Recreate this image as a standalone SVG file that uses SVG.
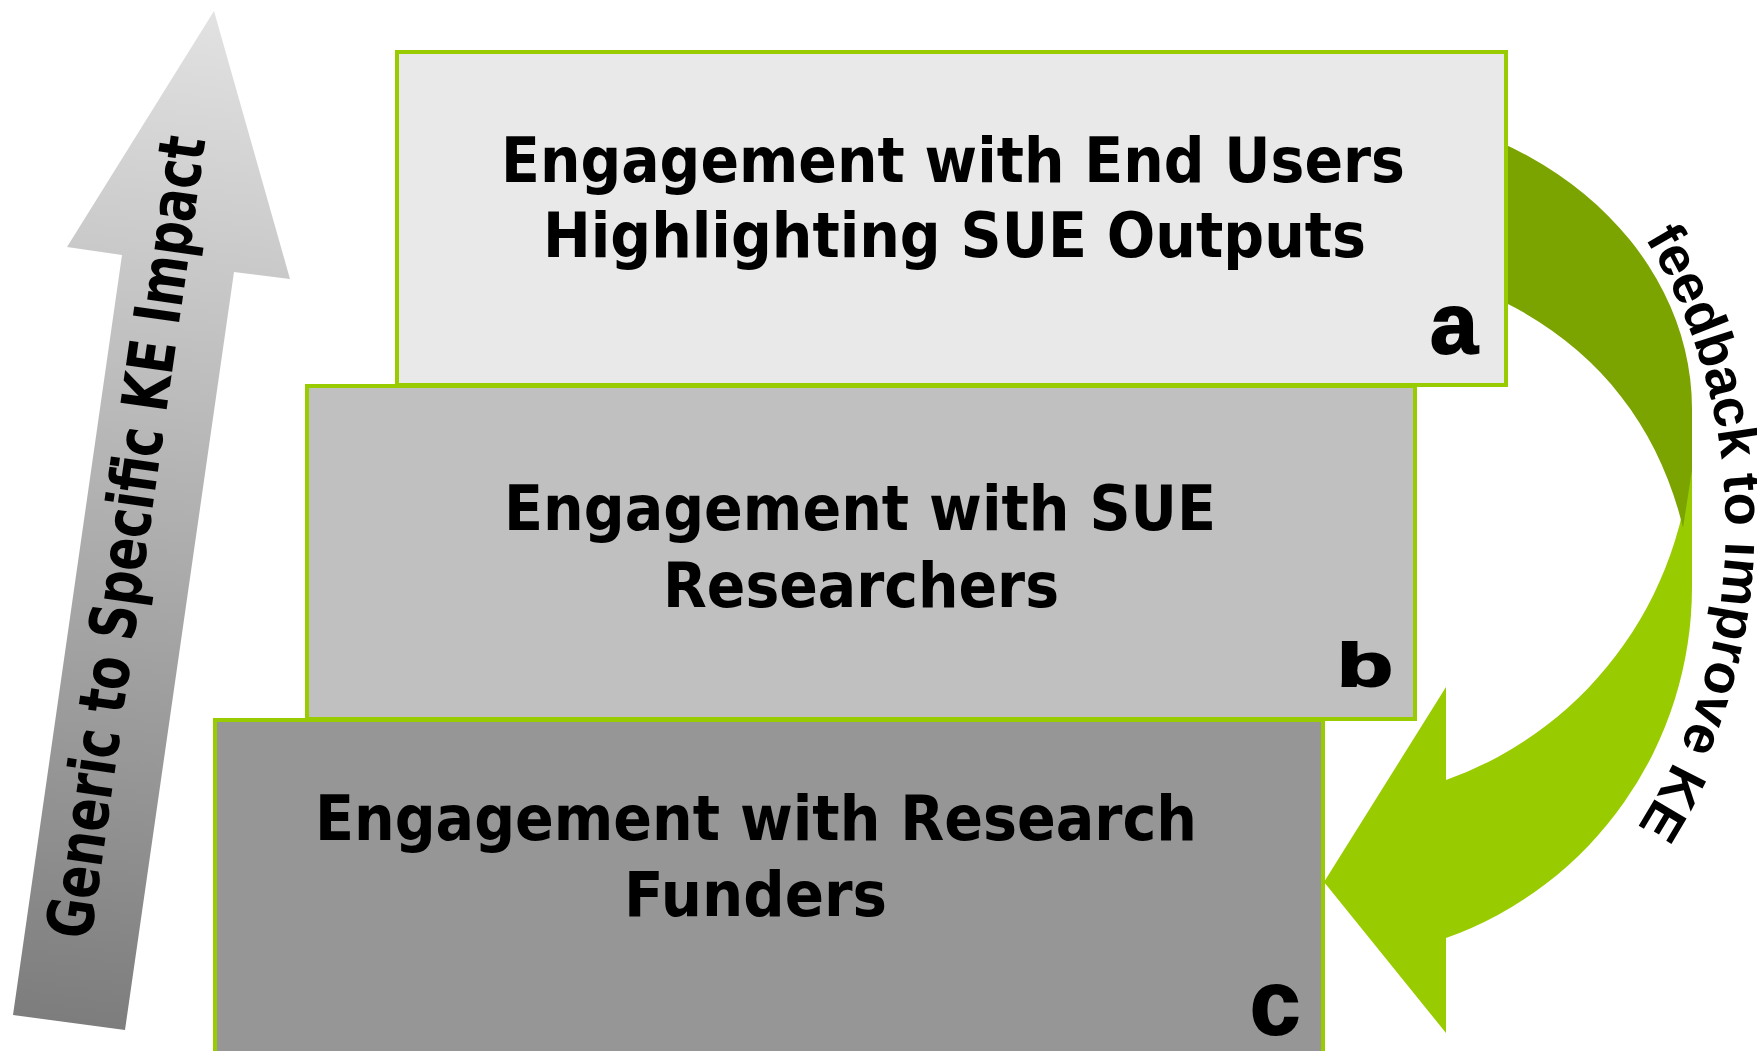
<svg xmlns="http://www.w3.org/2000/svg" width="1757" height="1051" viewBox="0 0 1757 1051">
<defs>
<linearGradient id="gArrow" gradientUnits="userSpaceOnUse" x1="214" y1="11" x2="69" y2="1022">
<stop offset="0" stop-color="#e2e2e2"/>
<stop offset="1" stop-color="#7d7d7d"/>
</linearGradient>
<path id="fbPath" d="M 1645 238 A 557 557 0 0 1 1563 920"/>
</defs>
<style>
.box { stroke:#99cc00; stroke-width:4; }
.main { font-family:"DejaVu Sans","Liberation Sans",sans-serif; font-weight:bold; font-size:62px; fill:#000; }
.lbl { font-family:"Liberation Sans",Arial,sans-serif; font-weight:bold; fill:#000; stroke:#000; stroke-width:2; }
.side { font-family:"DejaVu Sans","Liberation Sans",sans-serif; font-weight:bold; font-size:64px; fill:#000; }
.fb { font-family:"Liberation Sans",Arial,sans-serif; font-weight:bold; font-size:54.5px; fill:#000; }
</style>

<g id="impact-arrow">
<polygon points="214,11 290,279 234,272 125,1030 13,1015 122,255 67,247" fill="url(#gArrow)"/>
<text class="side" transform="translate(148,540) rotate(-81.84) scale(0.7625,1)" x="0" y="0" text-anchor="middle">Generic to Specific KE Impact</text>
</g>

<g id="connectors">
<g id="feedback-arrow">
<path d="M 1692 429 L 1692 587 A 368 372 0 0 1 1446 938 L 1446 1033 L 1324 882 L 1446 687 L 1446 780 A 368 372 0 0 0 1692 429 Z" fill="#99cc00"/>
<path d="M 1324 105 A 368 304 0 0 1 1692 409 L 1692 470 L 1683 528 C 1660 430 1600 350 1506 303 L 1400 290 Z" fill="#7ba400"/>
<text class="fb"><textPath href="#fbPath">feedback to improve KE</textPath></text>
</g>
</g>

<g id="node-c">
<rect class="box" x="215" y="720" width="1108" height="345" fill="#969696"/>
<text class="main" x="315" y="840" textLength="882" lengthAdjust="spacingAndGlyphs">Engagement with Research</text>
<text class="main" x="624" y="916" textLength="263" lengthAdjust="spacingAndGlyphs">Funders</text>
<text class="lbl" x="1250" y="1034" font-size="90">c</text>
</g>

<g id="node-b">
<rect class="box" x="307" y="386" width="1108" height="333" fill="#c0c0c0"/>
<text class="main" x="504" y="530" textLength="712" lengthAdjust="spacingAndGlyphs">Engagement with SUE</text>
<text class="main" x="663" y="607" textLength="396" lengthAdjust="spacingAndGlyphs">Researchers</text>
<text class="lbl" x="1337" y="686" font-size="62" textLength="56" lengthAdjust="spacingAndGlyphs">b</text>
</g>

<g id="node-a">
<rect class="box" x="397" y="52" width="1109" height="333" fill="#e9e9e9"/>
<text class="main" x="501" y="182" textLength="904" lengthAdjust="spacingAndGlyphs">Engagement with End Users</text>
<text class="main" x="543" y="257" textLength="823" lengthAdjust="spacingAndGlyphs">Highlighting SUE Outputs</text>
<text class="lbl" x="1430" y="353" font-size="86">a</text>
</g>
</svg>
